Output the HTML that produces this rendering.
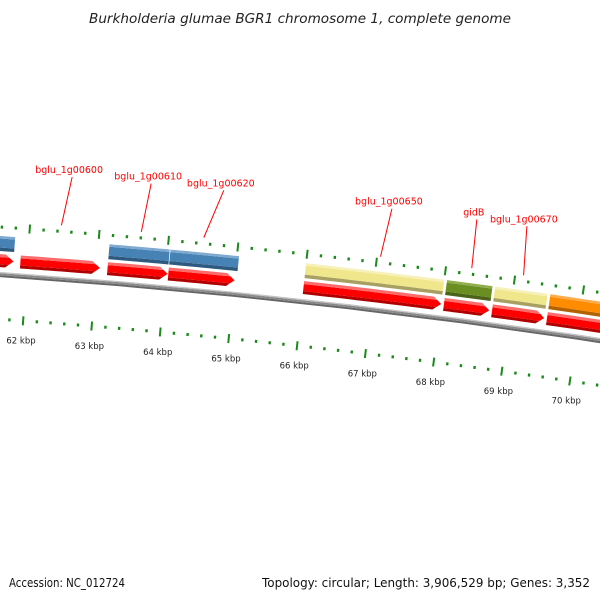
<!DOCTYPE html>
<html><head><meta charset="utf-8"><style>
html,body{margin:0;padding:0;background:#fff;}
svg{display:block;font-family:"DejaVu Sans","Liberation Sans",sans-serif;}
</style></head><body>
<svg id="map" width="600" height="600" viewBox="0 0 600 600">
<text x="300" y="23" text-anchor="middle" font-size="13" font-style="italic" fill="#222" textLength="422" lengthAdjust="spacingAndGlyphs">Burkholderia glumae BGR1 chromosome 1, complete genome</text>
<text x="9" y="587" font-size="12" fill="#111" textLength="116" lengthAdjust="spacingAndGlyphs">Accession: NC_012724</text>
<text x="590" y="587" text-anchor="end" font-size="12" fill="#111" textLength="328" lengthAdjust="spacingAndGlyphs">Topology: circular; Length: 3,906,529 bp; Genes: 3,352</text>
<g id="plot"></g>
</svg>
<script>
// data (kbp)
const tickStartKbp = 60;
const tickEndKbp = 72;
const tickLabels = ["62 kbp","63 kbp","64 kbp","65 kbp","66 kbp","67 kbp","68 kbp","69 kbp","70 kbp"];
const tickLabelKbp = [62,63,64,65,66,67,68,69,70];
const cdsStart = [60.5, 61.9, 63.16, 64.04, 66.0, 68.04, 68.74, 69.54];
const cdsEnd   = [61.8, 63.05, 64.03, 65.0, 68.0, 68.7, 69.5, 71.5];
const geneStart = [60.5, 63.16, 64.04, 66.0, 68.04, 68.74, 69.54];
const geneEnd   = [61.8, 64.03, 65.03, 68.0, 68.7, 69.5, 71.5];
const geneColor = ["blue","blue","blue","khaki","green","khaki","orange"];
const labelNames = ["bglu_1g00600","bglu_1g00610","bglu_1g00620","bglu_1g00650","gidB","bglu_1g00670"];
const labelKbp = [62.45, 63.6, 64.5, 67.05, 68.37, 69.12];
const labelShift = [0.1, 0.08, 0.22, 0.08, -0.02, -0.05];

const palette = {
  blue:   ['#2e5a80','#4682b4','#7ea9d1'],
  khaki:  ['#a8a062','#f0e68c','#f7f0b8'],
  green:  ['#4a6318','#6b8e23','#8fae4c'],
  orange: ['#b36200','#ff8c00','#ffab4a']
};

// geometry
const R = 7300, PX = 69.2, K0 = 66, TH0 = Math.atan(0.11);
const B = [302, 301];
const C = [B[0] - R*Math.sin(TH0), B[1] + R*Math.cos(TH0)];
function ang(k){ return TH0 + (k-K0)*PX/R; }
function pos(k, r){ const t=ang(k); return [C[0]+(R+r)*Math.sin(t), C[1]-(R+r)*Math.cos(t)]; }
const NS='http://www.w3.org/2000/svg';
const plot=document.getElementById('plot');
function mk(tag, attrs, parent){ const e=document.createElementNS(NS,tag); for(const k in attrs) e.setAttribute(k,attrs[k]); (parent||plot).appendChild(e); return e; }
function arcPts(a,b,r){ const n=12, p=[]; for(let i=0;i<=n;i++){ p.push(pos(a+(b-a)*i/n, r)); } return p; }
function arrowBand(a,b,R1,R2,r1,r2){
  const head=8/PX, mid=(R1+R2)/2;
  const tip=(r)=> b - head*Math.abs(r-mid)/((R2-R1)/2);
  let pts = arcPts(a,b-head,r2);
  pts.push(pos(tip(r2),r2));
  if((r1-mid)*(r2-mid)<0) pts.push(pos(b,mid));
  pts.push(pos(tip(r1),r1));
  pts = pts.concat(arcPts(b-head,a,r1));
  return pts.map(p=>p[0].toFixed(2)+','+p[1].toFixed(2)).join(' ');
}
function band(a,b,r1,r2){
  const pts = arcPts(a,b,r2).concat(arcPts(b,a,r1));
  return pts.map(p=>p[0].toFixed(2)+','+p[1].toFixed(2)).join(' ');
}

// backbone
const bbg = mk('g',{});


mk('polygon',{points:band(55,75,-3,-1),fill:'#666'},bbg);
mk('polygon',{points:band(55,75,-1,1),fill:'#8a8a8a'},bbg);
mk('polygon',{points:band(55,75,1,2.2),fill:'#c4c4c4'},bbg);

// ticks
for(let i=Math.round(tickStartKbp*5); i<=tickEndKbp*5; i++){
  const k=i/5, major=(i%5===0);
  [47,-45].forEach((r)=>{
    const len = major?9:3;
    const p1=pos(k,r-len/2), p2=pos(k,r+len/2);
    const t=mk('line',{x1:p1[0],y1:p1[1],x2:p2[0],y2:p2[1],stroke:'#1a8a1a','stroke-width':major?2:2.4});
    
    
  });
}
tickLabels.forEach((lab,i)=>{
  const p=pos(tickLabelKbp[i]-0.01,-65);
  const t=mk('text',{x:p[0],y:p[1]+3,'text-anchor':'middle','font-size':'8.5',fill:'#222'});
  t.textContent=lab;
  
  
});

// CDS row
cdsStart.forEach((s,i)=>{
  const g=mk('g',{});
  
  
  const e=cdsEnd[i];
  mk('polygon',{points:arrowBand(s,e,7,20,7,10),fill:'#b00000'},g);
  mk('polygon',{points:arrowBand(s,e,7,20,10,17),fill:'#ff0000'},g);
  mk('polygon',{points:arrowBand(s,e,7,20,17,20),fill:'#ff6a6a'},g);
});
// gene row
geneStart.forEach((s,i)=>{
  const g=mk('g',{});
  
  
  const c=palette[geneColor[i]], e=geneEnd[i];
  mk('polygon',{points:band(s,e,23,26.5),fill:c[0]},g);
  mk('polygon',{points:band(s,e,26.5,35.5),fill:c[1]},g);
  mk('polygon',{points:band(s,e,35.5,38),fill:c[2]},g);
});
// labels
labelNames.forEach((n,i)=>{
  const p1=pos(labelKbp[i],53), p2=pos(labelKbp[i]+labelShift[i],102);
  const l=mk('line',{x1:p1[0],y1:p1[1],x2:p2[0],y2:p2[1],stroke:'#ff0000','stroke-width':1});
  
  
  const t=mk('text',{x:p2[0]-3,y:p2[1]-4,'text-anchor':'middle','font-size':'9.5',fill:'#ff0000'});
  t.textContent=n;
  
  
});
</script>
</body></html>
